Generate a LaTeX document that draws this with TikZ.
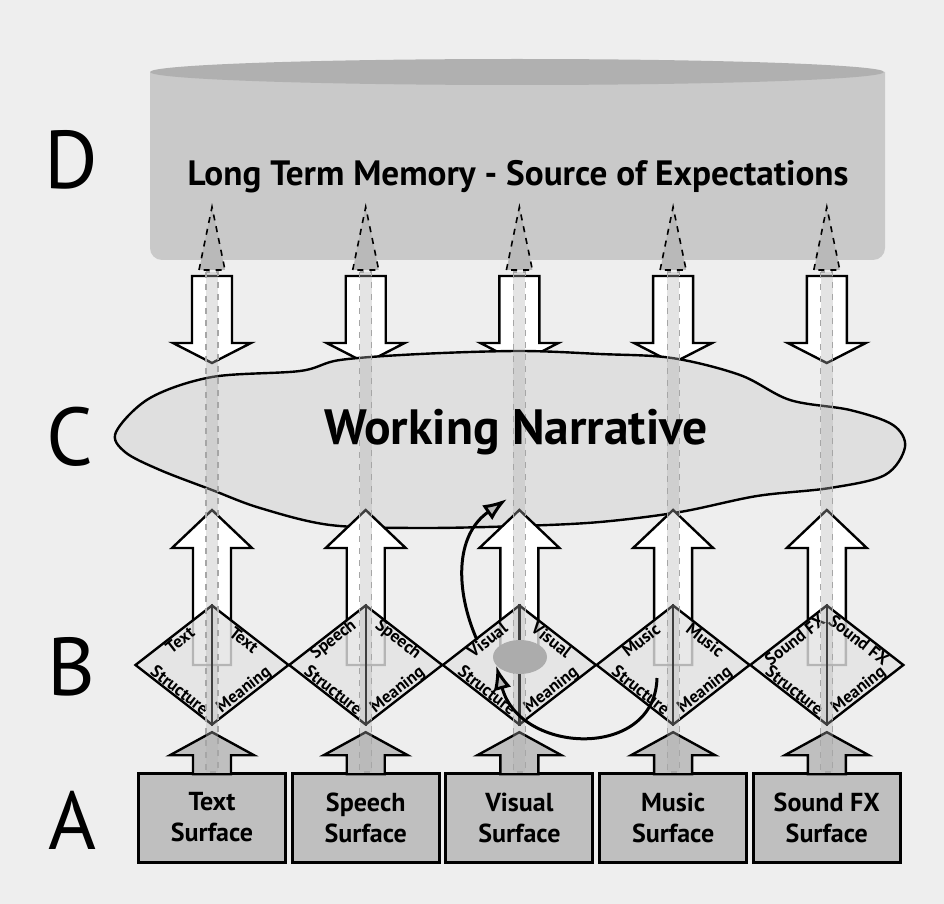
\documentclass[tikz,border=0pt]{standalone}
\usepackage{fontspec}
\setmainfont{PT Sans}
\usetikzlibrary{positioning,calc,shapes.geometric,arrows.meta}

\tikzset{
  surface/.style={draw, line width=1.5pt, fill=gray!50, minimum width=73.5pt,
    minimum height=44.5pt, align=center, font=\bfseries\fontsize{13}{15.5}\selectfont},
  pair/.style={diamond, draw, line width=1.2pt, fill=gray!22, fill opacity=0.8,
    minimum width=77pt, minimum height=60pt, inner sep=0pt},
  facet/.style={font=\bfseries\fontsize{8.6}{9}\selectfont, inner sep=0pt},
  level/.style={font=\fontsize{41}{45}\selectfont},
  pipe/.style={draw=gray!70, dashed, line width=0.6pt, fill=gray!60, fill opacity=0.35},
  pipetip/.style={draw, dashed, line width=0.8pt, fill=gray!55},
  feedback/.style={line width=1.5pt, -{Latex[length=12pt,width=9pt,fill=gray!55]}},
  pics/block/.style n args={5}{code={
    \draw[line width=1.2pt, fill=#5, line join=miter]
      (-#3,#1) -- (-#3,#2) -- (-#4,#2) -- (0,0) -- (#4,#2) -- (#3,#2) -- (#3,#1) -- cycle;
  }}
}

\begin{document}
\begin{tikzpicture}[x=0.5pt, y=-0.5pt]
\useasboundingbox (0,0) rectangle (944,904);
\fill[gray!13] (0,0) rectangle (944,904);

% long term memory drum
\fill[gray!42] (150,72) {[rounded corners=6pt] -- (150,260) -- (885,260)} -- (885,72) -- cycle;
\fill[gray!62] (517,72) ellipse [x radius=367, y radius=13];

% arrows down from memory
\foreach \x in {212,365.7,519.4,673.1,826.8}
  \pic[yscale=-1] at (\x,363) {block={87}{20}{20}{39}{white}};

% working narrative
\draw[line width=1.2pt, fill=gray!25] plot[smooth cycle, tension=0.55] coordinates {
  (116,432) (150,398) (212,377) (300,371) (340,360) (420,354) (520,351)
  (600,354) (672,358) (740,375) (790,400) (850,410) (893,425) (905,447)
  (885,475) (830,488) (757,496) (680,512) (600,522) (520,526) (420,528)
  (330,525) (260,508) (212,490) (160,470) (125,452)};

% arrows up into the narrative
\foreach \x in {212,365.7,519.4,673.1,826.8}
  \pic at (\x,510) {block={155}{38}{19}{40}{white}};

% structure/meaning pairs and surfaces
\foreach \i/\x/\name in {1/212/Text, 2/365.7/Speech, 3/519.4/Visual, 4/673.1/Music, 5/826.8/Sound FX} {
  \node[pair] (d\i) at (\x,665) {};
  \draw[line width=1.2pt] (d\i.north) -- (d\i.south);
  \node[facet, rotate=37.9] at ($(d\i.north west)!0.18!(d\i.center)$) {\name};
  \node[facet, rotate=-37.9] at ($(d\i.south west)!0.18!(d\i.center)$) {Structure};
  \node[facet, rotate=-37.9] at ($(d\i.north east)!0.18!(d\i.center)$) {\name};
  \node[facet, rotate=37.9] at ($(d\i.south east)!0.18!(d\i.center)$) {Meaning};
  \node[surface] (s\i) at (\x,817.5) {\name\\Surface};
  \pic at ($(d\i.south)+(0,6)$) {block={42}{23}{19}{42}{gray!50}};
}

% pipes running up to memory
\foreach \x in {212,365.7,519.4,673.1,826.8} {
  \draw[pipe] (\x-6,272) rectangle (\x+6,772);
  \draw[pipetip] (\x-13,270) -- (\x,207) -- (\x+13,270) -- cycle;
}

\node[font=\bfseries\fontsize{17.6}{20}\selectfont] (ltm) at (518,177) {Long Term Memory - Source of Expectations};
\node[font=\bfseries\fontsize{24.8}{28}\selectfont] (wn) at (516,432) {Working Narrative};

% attention loop
\node[ellipse, fill=gray!65, minimum width=27pt, minimum height=17pt, inner sep=0pt] (focus) at (520,657) {};
\coordinate (tail) at (657,678);
\coordinate (turn) at (477,640);
\coordinate (entry) at (507,499);
\draw[feedback] (tail) .. controls (655,760) and (520,755) .. (focus.200);
\draw[feedback] (turn) .. controls (455,590) and (455,535) .. (entry);

% levels
\node[level] (lD) at (71,160) {D};
\node[level] (lC) at (70,437) {C};
\node[level] (lB) at (71,667) {B};
\node[level] (lA) at (72,820) {A};
\end{tikzpicture}
\end{document}
